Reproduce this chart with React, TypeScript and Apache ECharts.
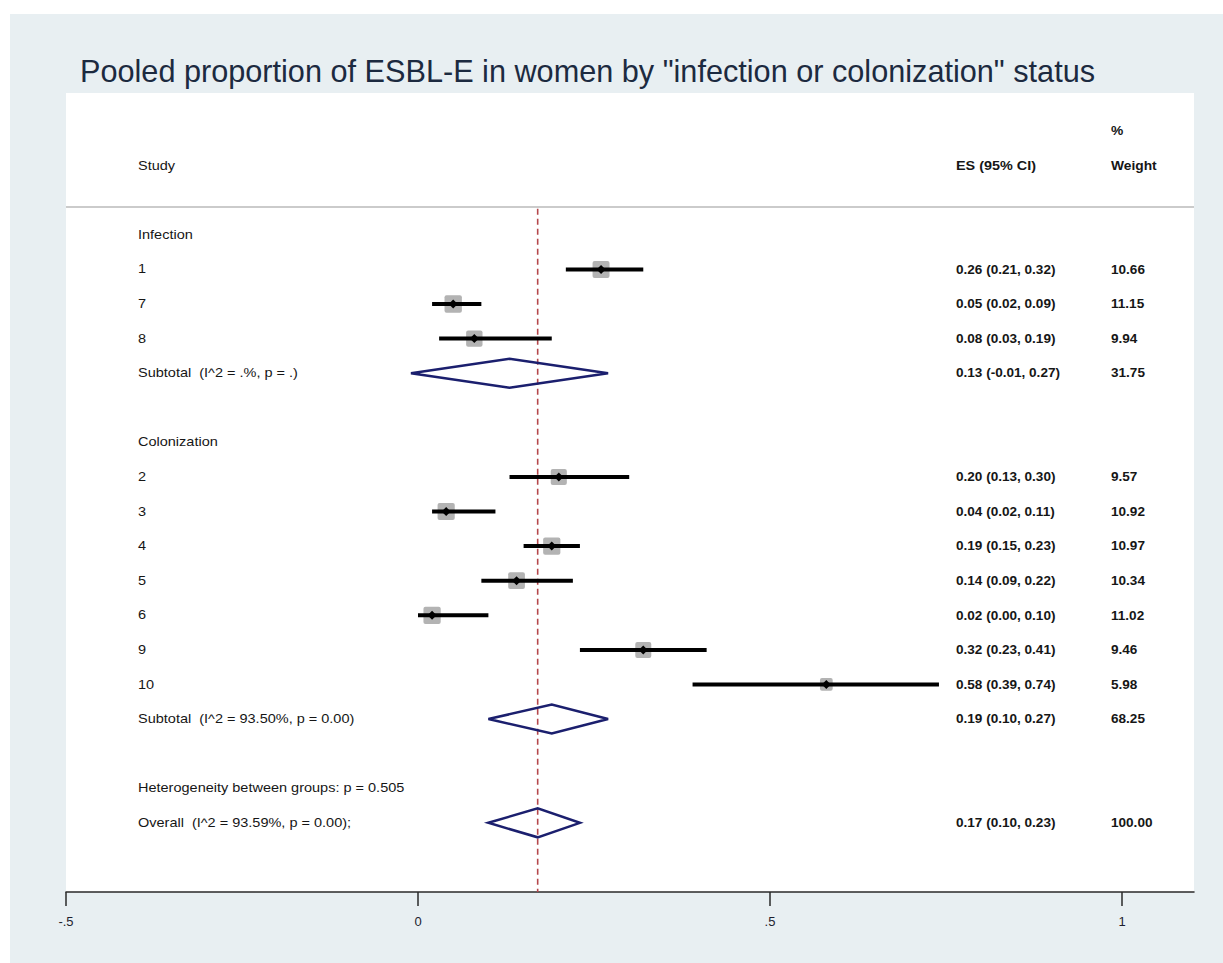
import React, { useEffect, useRef } from 'react';
import * as echarts from 'echarts';

// ---------- data ----------
const groupLabels = ['Infection', 'Colonization'];

const infectionStudies = ['1', '7', '8'];
const infectionES = [0.26, 0.05, 0.08];
const infectionLower = [0.21, 0.02, 0.03];
const infectionUpper = [0.32, 0.09, 0.19];
const infectionWeight = [10.66, 11.15, 9.94];

const colonizationStudies = ['2', '3', '4', '5', '6', '9', '10'];
const colonizationES = [0.2, 0.04, 0.19, 0.14, 0.02, 0.32, 0.58];
const colonizationLower = [0.13, 0.02, 0.15, 0.09, 0.0, 0.23, 0.39];
const colonizationUpper = [0.3, 0.11, 0.23, 0.22, 0.1, 0.41, 0.74];
const colonizationWeight = [9.57, 10.92, 10.97, 10.34, 11.02, 9.46, 5.98];

const pooledLabels = [
  'Subtotal  (I^2 = .%, p = .)',
  'Subtotal  (I^2 = 93.50%, p = 0.00)',
  'Overall  (I^2 = 93.59%, p = 0.00);',
];
const pooledES = [0.13, 0.19, 0.17];
const pooledLower = [-0.01, 0.1, 0.1];
const pooledUpper = [0.27, 0.27, 0.23];
const pooledWeight = [31.75, 68.25, 100.0];

const heterogeneityLabel = 'Heterogeneity between groups: p = 0.505';
const overallReference = [0.17];
const xTicks = [-0.5, 0, 0.5, 1];

const titleText = 'Pooled proportion of ESBL-E in women by "infection or colonization" status';

// ---------- build rows ----------
type Row = { row: number; label?: string; es?: string; w?: string; pct?: string };
const fmtCI = (e: number, l: number, h: number) => `${e.toFixed(2)} (${l.toFixed(2)}, ${h.toFixed(2)})`;

const rows: Row[] = [];
const studyData: number[][] = [];
const pooledData: number[][] = [];

rows.push({ row: -3, pct: '%' });
rows.push({ row: -2, label: 'Study', es: 'ES (95% CI)', w: 'Weight' });

let r = 0;
const addGroup = (gi: number, names: string[], es: number[], lo: number[], hi: number[], w: number[]) => {
  rows.push({ row: r, label: groupLabels[gi] });
  r++;
  names.forEach((n, i) => {
    rows.push({ row: r, label: n, es: fmtCI(es[i], lo[i], hi[i]), w: w[i].toFixed(2) });
    studyData.push([es[i], r, lo[i], hi[i], w[i]]);
    r++;
  });
  rows.push({ row: r, label: pooledLabels[gi], es: fmtCI(pooledES[gi], pooledLower[gi], pooledUpper[gi]), w: pooledWeight[gi].toFixed(2) });
  pooledData.push([pooledES[gi], r, pooledLower[gi], pooledUpper[gi]]);
  r += 2;
};
addGroup(0, infectionStudies, infectionES, infectionLower, infectionUpper, infectionWeight);
addGroup(1, colonizationStudies, colonizationES, colonizationLower, colonizationUpper, colonizationWeight);
rows.push({ row: r, label: heterogeneityLabel });
r++;
rows.push({ row: r, label: pooledLabels[2], es: fmtCI(pooledES[2], pooledLower[2], pooledUpper[2]), w: pooledWeight[2].toFixed(2) });
pooledData.push([pooledES[2], r, pooledLower[2], pooledUpper[2]]);

const textData = rows.map((rw, i) => [0, rw.row, i]);

// ---------- layout constants ----------
const GRID_LEFT = 66;
const GRID_TOP = 93;
const GRID_W = 1128;
const GRID_H = 799;
const PX_PER_UNIT = 704;
const X_MIN = -0.5;
const X_MAX = X_MIN + GRID_W / PX_PER_UNIT;
const Y_MIN = -4.1;
const Y_MAX = 19;

const COL_LABEL = 138;
const COL_ES = 956;
const COL_W = 1111;
const TEXT_COLOR = '#161616';

export default function App() {
  const ref = useRef<HTMLDivElement>(null);

  useEffect(() => {
    if (!ref.current) return;
    const chart = echarts.init(ref.current, null, { renderer: 'svg' });

    const mkText = (text: string, x: number, y: number, bold: boolean, sx: number) => ({
      type: 'text',
      x,
      y,
      scaleX: sx,
      style: {
        text,
        x: 0,
        y: 0,
        fontSize: 12,
        fontFamily: '"Liberation Sans", Arial, sans-serif',
        fontWeight: bold ? 'bold' : 'normal',
        fill: TEXT_COLOR,
        verticalAlign: 'middle',
        align: 'left',
      },
    });

    const option: any = {
      animation: false,
      grid: {
        left: GRID_LEFT,
        top: GRID_TOP,
        width: GRID_W,
        height: GRID_H,
        show: true,
        backgroundColor: '#ffffff',
        borderWidth: 0,
      },
      xAxis: {
        type: 'value',
        min: X_MIN,
        max: X_MAX,
        splitLine: { show: false },
        axisLine: { show: true, onZero: false, lineStyle: { color: '#2a2a2a', width: 1.5 } },
        axisTick: {
          show: true,
          customValues: xTicks,
          length: 14,
          lineStyle: { color: '#2a2a2a', width: 1.5 },
        },
        axisLabel: {
          show: true,
          customValues: xTicks,
          margin: 23,
          fontSize: 13,
          fontFamily: '"Liberation Sans", Arial, sans-serif',
          color: '#1e1e2e',
          formatter: (v: number) => String(v).replace('0.', '.'),
        },
      },
      yAxis: {
        type: 'value',
        min: Y_MIN,
        max: Y_MAX,
        inverse: true,
        show: false,
        splitLine: { show: false },
      },
      graphic: [
        {
          type: 'text',
          x: 80,
          y: 71,
          scaleX: 0.958,
          style: {
            text: titleText,
            fontSize: 32,
            fontFamily: '"Liberation Sans", Arial, sans-serif',
            fill: '#1c2a40',
            verticalAlign: 'middle',
            align: 'left',
          },
        },
        {
          type: 'line',
          shape: { x1: GRID_LEFT, y1: 207, x2: GRID_LEFT + GRID_W, y2: 207 },
          style: { stroke: '#cbcbcb', lineWidth: 2 },
          z: 5,
        },
      ],
      series: [
        {
          type: 'custom',
          name: 'reference',
          z: 1,
          data: overallReference.map((v) => [v, Y_MAX]),
          renderItem: (params: any, api: any) => {
            const v = api.value(0);
            const top = api.coord([v, -0.75]);
            const bot = api.coord([v, Y_MAX]);
            return {
              type: 'line',
              shape: { x1: top[0], y1: top[1], x2: bot[0], y2: bot[1] },
              style: { stroke: '#b5474b', lineWidth: 1.6, lineDash: [6, 4] },
            };
          },
        },
        {
          type: 'custom',
          name: 'studies',
          z: 3,
          data: studyData,
          renderItem: (params: any, api: any) => {
            const es = api.value(0);
            const row = api.value(1);
            const lo = api.value(2);
            const hi = api.value(3);
            const w = api.value(4);
            const c = api.coord([es, row]);
            const l = api.coord([lo, row]);
            const h = api.coord([hi, row]);
            const s = 5.2 * Math.sqrt(w);
            const d = 4.5;
            return {
              type: 'group',
              children: [
                {
                  type: 'rect',
                  shape: { x: c[0] - s / 2, y: c[1] - s / 2, width: s, height: s, r: 2 },
                  style: { fill: '#b3b3b3' },
                },
                {
                  type: 'line',
                  shape: { x1: l[0], y1: c[1], x2: h[0], y2: c[1] },
                  style: { stroke: '#000', lineWidth: 4 },
                },
                {
                  type: 'polygon',
                  shape: { points: [[c[0] - d, c[1]], [c[0], c[1] - d], [c[0] + d, c[1]], [c[0], c[1] + d]] },
                  style: { fill: '#000' },
                },
              ],
            };
          },
        },
        {
          type: 'custom',
          name: 'pooled',
          z: 3,
          data: pooledData,
          renderItem: (params: any, api: any) => {
            const es = api.value(0);
            const row = api.value(1);
            const c = api.coord([es, row]);
            const l = api.coord([api.value(2), row]);
            const h = api.coord([api.value(3), row]);
            const hh = 14.5;
            return {
              type: 'polygon',
              shape: { points: [[l[0], c[1]], [c[0], c[1] - hh], [h[0], c[1]], [c[0], c[1] + hh]] },
              style: { fill: 'none', stroke: '#1b1f6e', lineWidth: 2.5 },
            };
          },
        },
        {
          type: 'custom',
          name: 'texts',
          z: 4,
          data: textData,
          renderItem: (params: any, api: any) => {
            const rw = rows[params.dataIndex];
            const y = api.coord([0, rw.row])[1];
            const children: any[] = [];
            const header = rw.row < 0;
            if (rw.label) children.push(mkText(rw.label, COL_LABEL, y, false, 1.21));
            if (rw.es) children.push(mkText(rw.es, COL_ES, y, true, header ? 1.2 : 1.13));
            if (rw.w) children.push(mkText(rw.w, COL_W, y, true, header ? 1.15 : 1.13));
            if (rw.pct) children.push(mkText(rw.pct, COL_W, y, true, 1.15));
            return { type: 'group', children };
          },
        },
      ],
    };

    chart.setOption(option);
    return () => chart.dispose();
  }, []);

  return (
    <div style={{ position: 'fixed', left: 0, top: 0, width: 1223, height: 963, background: '#ffffff' }}>
      <div style={{ position: 'absolute', left: 10, top: 14, right: 0, bottom: 0, background: '#e8eff2' }} />
      <div ref={ref} style={{ position: 'absolute', left: 0, top: 0, width: 1223, height: 963 }} />
    </div>
  );
}
